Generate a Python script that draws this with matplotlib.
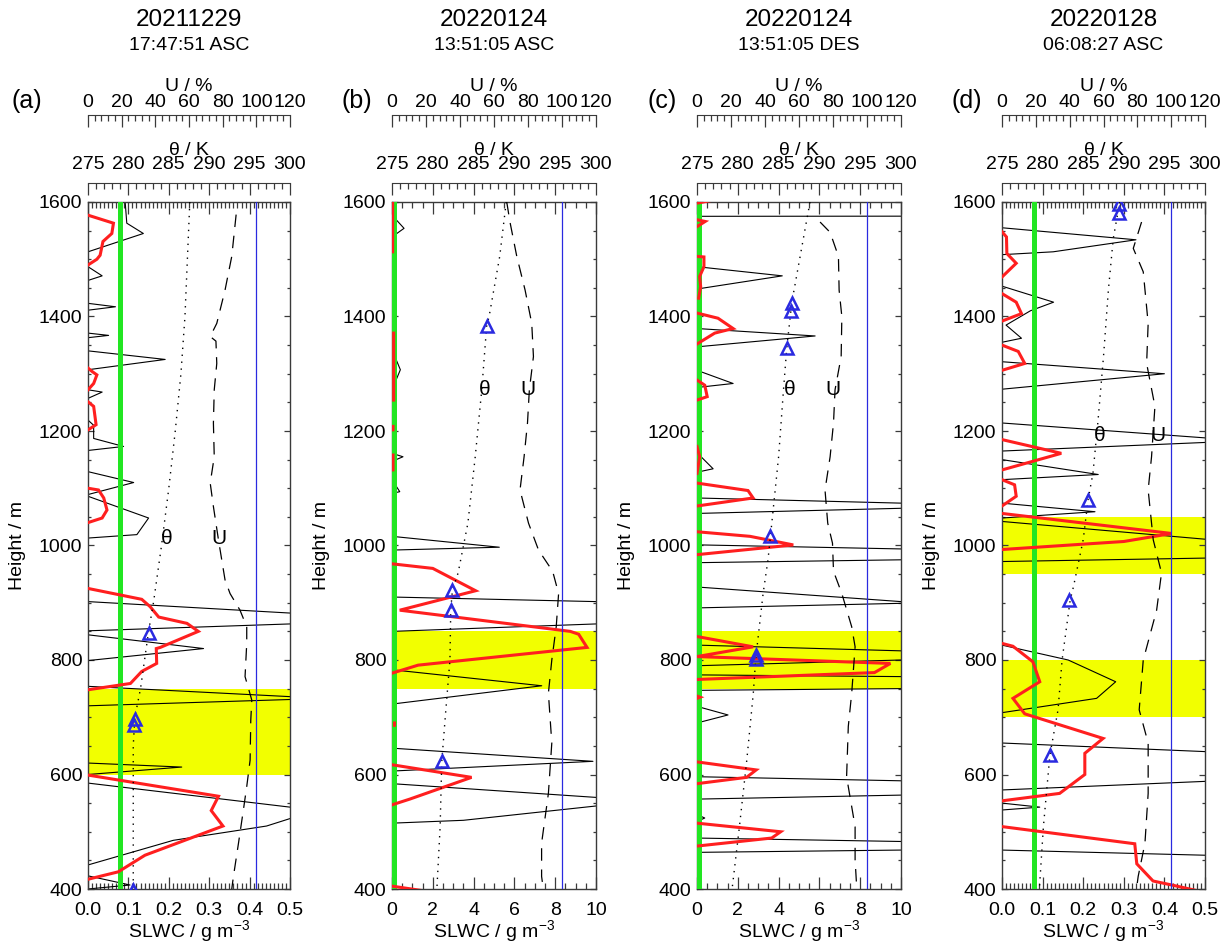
import numpy as np
import matplotlib.pyplot as plt
from matplotlib.ticker import MultipleLocator, FormatStrFormatter

plt.rcParams['font.family'] = ['Liberation Sans', 'DejaVu Sans']
plt.rcParams['mathtext.fontset'] = 'custom'
plt.rcParams['mathtext.rm'] = 'Liberation Sans'
plt.rcParams['mathtext.it'] = 'Liberation Sans'

nan = np.nan

# ---- panel (a) 20211229 17:47:51 ASC ----
a_red_h = [1577, 1563, 1545, 1531, 1507, 1500, 1490, nan,
           1310, 1304, 1298, 1283, 1272, nan,
           1251, 1243, 1211, 1202, nan,
           1100, 1097, 1083, 1062, 1048, 1040, nan,
           925, 906, 893, 875, 864, 850, 822, 820, 794, 780, 759, 748, nan,
           599, 588, 562, 537, 510, 459, 430, 417]
a_red_v = [0, 0.063, 0.059, 0.037, 0.030, 0.022, 0, nan,
           0, 0.010, 0.022, 0.014, 0, nan,
           0, 0.014, 0.020, 0, nan,
           0, 0.026, 0.039, 0.047, 0.035, 0, nan,
           0, 0.133, 0.154, 0.175, 0.245, 0.273, 0.179, 0.169, 0.170, 0.133, 0.105, 0, nan,
           0, 0.096, 0.323, 0.305, 0.334, 0.141, 0.075, 0]
a_blk_h = [1600, 1563, 1545, 1513, nan,
           1487, 1471, 1463, nan,
           1423, 1417, 1411, nan,
           1371, 1367, 1363, nan,
           1340, 1325, 1307, nan,
           1272, 1268, 1257, nan,
           1219, 1210, 1187, 1173, 1166, nan,
           1129, 1110, 1089, nan,
           1086, 1048, 1019, 1013, nan,
           902, 882, 872, 863, 851, nan,
           844, 820, 799, nan,
           754, 736, 734, 731, 720, nan,
           620, 613, 600, nan,
           585, 543, 533, 523, 510, 485, 442, nan,
           423, 407, 400]
a_blk_v = [0.092, 0.096, 0.137, 0, nan,
           0, 0.035, 0, nan,
           0, 0.068, 0, nan,
           0, 0.051, 0, nan,
           0, 0.191, 0, nan,
           0, 0.035, 0, nan,
           0, 0.014, 0.014, 0.088, 0, nan,
           0, 0.113, 0, nan,
           0, 0.150, 0.121, 0, nan,
           0, 0.5, 0.55, 0.5, 0, nan,
           0, 0.286, 0, nan,
           0, 0.5, 0.55, 0.5, 0, nan,
           0, 0.232, 0, nan,
           0, 0.5, 0.55, 0.5, 0.442, 0.211, 0, nan,
           0, 0.104, 0]
a_th_h = [1600, 1500, 1400, 1300, 1200, 1100, 1000, 900, 850, 800, 750, 700, 650, 600, 500, 400]
a_th_v = [287.6, 287.3, 287.0, 286.5, 285.8, 285.0, 284.1, 283.1, 282.5, 282.0, 281.5, 280.8,
          280.6, 280.6, 280.6, 280.6]
a_tri_h = [848, 697, 686, 399]
a_tri_v = [282.5, 280.8, 280.65, 280.6]
a_u_h = [1578, 1505, 1446, 1388, 1365, 1357, 1318, 1272, 1214, 1155, 1109, 1068, 1010, 940,
         916, 887, 858, 829, 771, 730, 695, 625, 579, 538, 480, 422, 400]
a_u_v = [88.0, 85.4, 81.4, 76.5, 72.6, 76.0, 76.5, 75.0, 74.5, 75.0, 72.6, 74.5, 77.5, 81.4,
         84.4, 90.3, 94.3, 94.3, 93.3, 97.3, 96.7, 96.3, 94.3, 92.3, 89.4, 86.4, 85.4]
a_bands = [(600, 750)]

# ---- panel (b) 20220124 13:51:05 ASC ----
b_red_h = [1600, 1513, nan,
           1371, 1254, nan,
           1208, 1202, nan,
           1158, 1132, nan,
           968, 960, 921, 887, 850, 845, 822, 791, 777, nan,
           690, 686, nan,
           617, 595, 557, 547, nan,
           405, 394, 388]
b_red_v = [0.03, 0.03, nan,
           0.08, 0.08, nan,
           0.05, 0.05, nan,
           0.05, 0.05, nan,
           0, 2.0, 4.1, 0.38, 8.74, 9.15, 9.56, 1.28, 0, nan,
           0.12, 0.12, nan,
           0, 3.9, 0.87, 0, nan,
           0, 2.1, 2.9]
b_blk_h = [1577, 1554, 1539, nan,
           1371, 1365, 1359, nan,
           1342, 1307, 1272, nan,
           1249, 1240, 1231, nan,
           1161, 1155, 1147, nan,
           1115, 1094, 1091, nan,
           1016, 997, 992, nan,
           910, 902, 882, 863, 850, nan,
           783, 755, 723, nan,
           646, 623, 606, nan,
           584, 560, 552, 545, 520, 515]
b_blk_v = [0, 0.59, 0, nan,
           0, 0.2, 0, nan,
           0, 0.41, 0, nan,
           0, 0.15, 0, nan,
           0, 0.54, 0, nan,
           0, 0.38, 0, nan,
           0, 5.26, 0, nan,
           0, 10, 11, 10, 0, nan,
           0, 7.34, 0, nan,
           0, 9.85, 0, nan,
           0, 10, 11, 10, 3.5, 0]
b_th_h = [1600, 1505, 1400, 1383, 1272, 1155, 1039, 952, 922, 887, 800, 713, 623, 509, 400]
b_th_v = [289.0, 288.2, 286.9, 286.6, 286.0, 285.2, 284.3, 283.1, 282.4, 282.2, 282.1, 281.6,
          281.1, 280.9, 280.5]
b_tri_h = [1383, 922, 887, 623]
b_tri_v = [286.6, 282.4, 282.2, 281.1]
b_u_h = [1600, 1565, 1505, 1446, 1388, 1330, 1272, 1214, 1155, 1097, 1039, 992, 955, 916,
         858, 800, 742, 655, 567, 480, 422, 400]
b_u_v = [67.5, 69.4, 73.4, 78.3, 82.2, 83.2, 80.8, 79.7, 77.7, 75.3, 80.3, 86.2, 94.5, 98.0,
         96.6, 94.0, 92.0, 94.0, 92.0, 88.0, 88.0, 89.0]
b_bands = [(750, 850)]

# ---- panel (c) 20220124 13:51:05 DES ----
c_red_h = [1604, 1598, nan,
           1569, 1566, 1557, nan,
           1505, 1504, 1487, 1470, 1452, 1432, nan,
           1406, 1397, 1379, 1371, 1352, nan,
           1289, 1280, 1260, 1254, nan,
           1173, 1155, 1126, nan,
           1109, 1096, 1083, 1069, nan,
           1024, 1016, 1001, 984, nan,
           841, 823, 806, 794, 778, 766, nan,
           737, 735, 733, nan,
           622, 608, 595, 584, nan,
           515, 500, 489, 475]
c_red_v = [0.9, 0, nan,
           0, 0.4, 0, nan,
           0, 0.34, 0.34, 0.13, 0.18, 0.08, nan,
           0, 1.03, 1.77, 0.87, 0, nan,
           0, 0.38, 0.5, 0, nan,
           0, 0.13, 0, nan,
           0, 2.5, 2.75, 0, nan,
           0, 2.6, 4.72, 0, nan,
           0, 2.75, 0, 9.48, 8.7, 0, nan,
           0, 0.15, 0, nan,
           0, 2.9, 2.43, 0, nan,
           0, 4.1, 3.66, 0]
c_blk_h = [1600, 1576, 1575, nan,
           1487, 1471, 1448, nan,
           1379, 1366, 1347, nan,
           1306, 1283, 1276, nan,
           1178, 1175, 1155, 1134, 1128, nan,
           1083, 1074, 1070, 1065, 1056, nan,
           1021, 1001, 994, 985, 975, 970, nan,
           929, 927, 902, 900, 899, 891, nan,
           826, 816, 808, 800, 790, nan,
           774, 771, 760, 750, 747, nan,
           719, 704, 690, nan,
           608, 596, 589, 577, 564, 557, nan,
           530, 524, 518, nan,
           489, 483, 476, 468, 464]
c_blk_v = [40, 40, 0, nan,
           0, 4.18, 0, nan,
           0, 5.79, 0, nan,
           0, 1.77, 0, nan,
           0, 0.2, 0.2, 0.79, 0, nan,
           0, 10, 12, 10, 0, nan,
           0, 0.2, 10, 12, 10, 0, nan,
           0, 0.2, 10, 12, 10, 0, nan,
           0, 10, 12, 10, 0, nan,
           0, 10, 12, 10, 0, nan,
           0, 1.52, 0, nan,
           0, 0.2, 10, 12, 10, 0, nan,
           0, 0.38, 0, nan,
           0, 10, 12, 10, 0]
c_th_h = [1600, 1565, 1423, 1409, 1345, 1272, 1155, 1016, 975, 916, 803, 742, 625, 509, 400]
c_th_v = [288.85, 288.4, 286.6, 286.5, 286.0, 285.6, 285.0, 284.0, 283.7, 283.1, 282.2, 281.9,
          281.1, 280.2, 279.3]
c_tri_h = [1423, 1409, 1345, 1016, 808, 801]
c_tri_v = [286.6, 286.5, 286.0, 284.0, 282.25, 282.2]
c_u_h = [1565, 1547, 1505, 1446, 1400, 1330, 1272, 1214, 1155, 1097, 1039, 1004, 955, 916,
         858, 823, 742, 684, 596, 509, 451, 400]
c_u_v = [72.4, 78.3, 83.2, 83.6, 85.2, 84.8, 81.2, 80.3, 78.3, 75.3, 76.9, 79.7, 80.3, 85.2,
         91.0, 93.0, 91.0, 89.0, 88.0, 93.0, 93.0, 94.0]
c_bands = [(750, 850)]

# ---- panel (d) 20220128 06:08:27 ASC ----
d_red_h = [1548, 1539, 1510, 1493, 1469, nan,
           1440, 1425, 1405, 1392, nan,
           1350, 1339, 1318, 1306, nan,
           1185, 1161, 1132, nan,
           1115, 1106, 1086, 1069, nan,
           1056, 1021, 1007, 993, nan,
           829, 824, 797, 762, 733, 706, 663, 637, 600, 567, 554, nan,
           509, 479, 444, 414, 407, 394, 388]
d_red_v = [0, 0.011, 0.012, 0.035, 0, nan,
           0, 0.035, 0.048, 0, nan,
           0, 0.040, 0.056, 0, nan,
           0, 0.146, 0, nan,
           0, 0.031, 0.035, 0, nan,
           0, 0.418, 0.300, 0, nan,
           0, 0.027, 0.076, 0.093, 0.027, 0.056, 0.249, 0.204, 0.204, 0.142, 0, nan,
           0, 0.327, 0.332, 0.372, 0.418, 0.5, 0.55]
d_blk_h = [1555, 1534, 1513, 1508, nan,
           1453, 1425, 1410, 1385, 1362, 1355, nan,
           1321, 1300, 1273, nan,
           1214, 1188, 1184, 1180, 1165, nan,
           1150, 1124, 1115, nan,
           1074, 1059, 1048, nan,
           1042, 1011, 995, 978, 972, nan,
           826, 800, 762, 733, 708, nan,
           655, 640, 614, 588, 573, nan,
           550, 543, 538, nan,
           468, 459, 390]
d_blk_v = [0, 0.33, 0.126, 0, nan,
           0, 0.127, 0.07, 0.01, 0.048, 0, nan,
           0, 0.4, 0, nan,
           0, 0.5, 0.55, 0.5, 0, nan,
           0, 0.237, 0, nan,
           0, 0.229, 0, nan,
           0, 0.5, 0.55, 0.5, 0, nan,
           0, 0.163, 0.28, 0.233, 0, nan,
           0, 0.5, 0.55, 0.5, 0, nan,
           0, 0.093, 0, nan,
           0, 0.5, 5.0]
d_th_h = [1600, 1536, 1446, 1330, 1214, 1126, 1080, 1010, 928, 905, 800, 713, 634, 509, 400]
d_th_v = [289.5, 288.7, 288.1, 287.5, 286.8, 286.2, 285.6, 285.0, 283.8, 283.4, 282.4, 281.9,
          280.9, 280.1, 279.6]
d_tri_h = [1596, 1581, 1080, 905, 634]
d_tri_v = [289.4, 289.35, 285.6, 283.3, 280.9]
d_u_h = [1565, 1519, 1478, 1388, 1318, 1243, 1155, 1097, 1010, 952, 887, 800, 713, 655, 567,
         480, 422, 400]
d_u_v = [82.5, 77.6, 83.5, 86.4, 85.5, 90.4, 88.4, 86.4, 89.4, 94.3, 91.4, 83.5, 81.1, 86.4,
         86.4, 84.5, 80.5, 79.5]
d_bands = [(950, 1050), (700, 800)]

dates = ['20211229', '20220124', '20220124', '20220128']
times = ['17:47:51 ASC', '13:51:05 ASC', '13:51:05 DES', '06:08:27 ASC']
letters = ['(a)', '(b)', '(c)', '(d)']
slwc_thresh = 0.08
u_sat = 100

# layout in pixels
W, H = 1228, 947
TOP, BOT = 202, 889
RED, GREEN, YELLOW, BLUE = '#ff1f1f', '#22e622', '#f2ff00', '#2a2ae0'
SPINE = '#3a3a3a'
FS = 14

fig = plt.figure(figsize=(W / 100, H / 100), dpi=100)


def draw_panel(x0, w, slwc_max, slwc_major, slwc_minor, fmt,
               red, blk, th, tri, u, bands, th_pos, u_pos, date, time, letter, letter_x):
    ax = fig.add_axes([x0 / W, 1 - BOT / H, w / W, (BOT - TOP) / H])
    for lo, hi in bands:
        ax.axhspan(lo, hi, color=YELLOW, lw=0, zorder=0)
    ax.plot(blk[1], blk[0], color='k', lw=0.8, zorder=2)
    ax.axvline(slwc_thresh, color=GREEN, lw=3.6, zorder=3)
    ax.plot(red[1], red[0], color=RED, lw=2.2, zorder=4, solid_joinstyle='miter')
    ax.set_xlim(0, slwc_max)
    ax.set_ylim(400, 1600)
    ax.xaxis.set_major_locator(MultipleLocator(slwc_major))
    ax.xaxis.set_minor_locator(MultipleLocator(slwc_minor))
    ax.xaxis.set_major_formatter(FormatStrFormatter(fmt))
    ax.yaxis.set_major_locator(MultipleLocator(200))
    ax.yaxis.set_minor_locator(MultipleLocator(50))
    ax.set_xlabel('SLWC / g m$^{-3}$', fontsize=FS, labelpad=0)
    ax.set_ylabel('Height / m', fontsize=FS, labelpad=9)
    ax.text(th_pos[0], th_pos[1], '\u03b8', fontsize=15, ha='center', va='center', zorder=6)
    ax.text(u_pos[0], u_pos[1], 'U', fontsize=15, ha='center', va='center', zorder=6)
    for s in ax.spines.values():
        s.set_color(SPINE)
        s.set_linewidth(1.0)

    # potential temperature axis
    axT = ax.twiny()
    axT.set_xlim(275, 300)
    axT.plot(th[1], th[0], color='k', lw=1.0, linestyle=(0, (1, 4)))
    axT.plot(tri[1], tri[0], ls='none', marker='^', ms=8.5, mfc='none', mec=BLUE, mew=1.8)
    axT.xaxis.set_major_locator(MultipleLocator(5))
    axT.xaxis.set_minor_locator(MultipleLocator(1))
    axT.set_xlabel('\u03b8 / K', fontsize=FS, labelpad=1)

    # relative humidity axis
    axU = ax.twiny()
    axU.set_xlim(0, 120)
    axU.plot(u[1], u[0], color='k', lw=0.9, dashes=(10, 7))
    axU.axvline(u_sat, color=BLUE, lw=0.9)
    axU.xaxis.set_major_locator(MultipleLocator(20))
    axU.xaxis.set_minor_locator(MultipleLocator(4))
    axU.set_xlabel('U / %', fontsize=FS, labelpad=2)

    for tw, off, pad in ((axT, (TOP - 183) * 0.72, 7), (axU, (TOP - 115) * 0.72, 3)):
        for side in ('left', 'right', 'bottom'):
            tw.spines[side].set_visible(False)
        tw.spines['top'].set_position(('outward', off))
        tw.spines['top'].set_color(SPINE)
        tw.tick_params(axis='x', which='both', direction='in', top=True, bottom=False,
                       labeltop=True, labelbottom=False, color=SPINE, width=0.9,
                       labelsize=FS, pad=pad)
        tw.tick_params(axis='x', which='major', length=8.5)
        tw.tick_params(axis='x', which='minor', length=4)

    ax.tick_params(axis='both', which='both', direction='in', top=True, right=True,
                   labeltop=False, color=SPINE, width=0.9, labelsize=FS)
    ax.tick_params(axis='x', which='major', length=8.5, pad=9)
    ax.tick_params(axis='x', which='minor', length=4)
    ax.tick_params(axis='y', which='major', length=4, pad=4)
    ax.tick_params(axis='y', which='minor', length=2.5)

    cx = (x0 + w / 2) / W
    fig.text(cx, 1 - 20 / H, date, fontsize=17.5, ha='center', va='center')
    fig.text(cx, 1 - 46 / H, time, fontsize=14, ha='center', va='center')
    fig.text(letter_x / W, 1 - 101 / H, letter, fontsize=18, ha='center', va='center')


draw_panel(88, 202, 0.5, 0.1, 0.01, '%.1f',
           (a_red_h, a_red_v), (a_blk_h, a_blk_v), (a_th_h, a_th_v), (a_tri_h, a_tri_v),
           (a_u_h, a_u_v), a_bands, (0.196, 1013), (0.324, 1013),
           dates[0], times[0], letters[0], 27)
draw_panel(392, 204, 10, 2, 0.5, '%d',
           (b_red_h, b_red_v), (b_blk_h, b_blk_v), (b_th_h, b_th_v), (b_tri_h, b_tri_v),
           (b_u_h, b_u_v), b_bands, (4.56, 1272), (6.68, 1272),
           dates[1], times[1], letters[1], 357)
draw_panel(697, 204, 10, 2, 0.5, '%d',
           (c_red_h, c_red_v), (c_blk_h, c_blk_v), (c_th_h, c_th_v), (c_tri_h, c_tri_v),
           (c_u_h, c_u_v), c_bands, (4.56, 1272), (6.68, 1272),
           dates[2], times[2], letters[2], 662)
draw_panel(1002, 203, 0.5, 0.1, 0.01, '%.1f',
           (d_red_h, d_red_v), (d_blk_h, d_blk_v), (d_th_h, d_th_v), (d_tri_h, d_tri_v),
           (d_u_h, d_u_v), d_bands, (0.241, 1193), (0.385, 1193),
           dates[3], times[3], letters[3], 967)

fig.savefig('out.png', dpi=100)
